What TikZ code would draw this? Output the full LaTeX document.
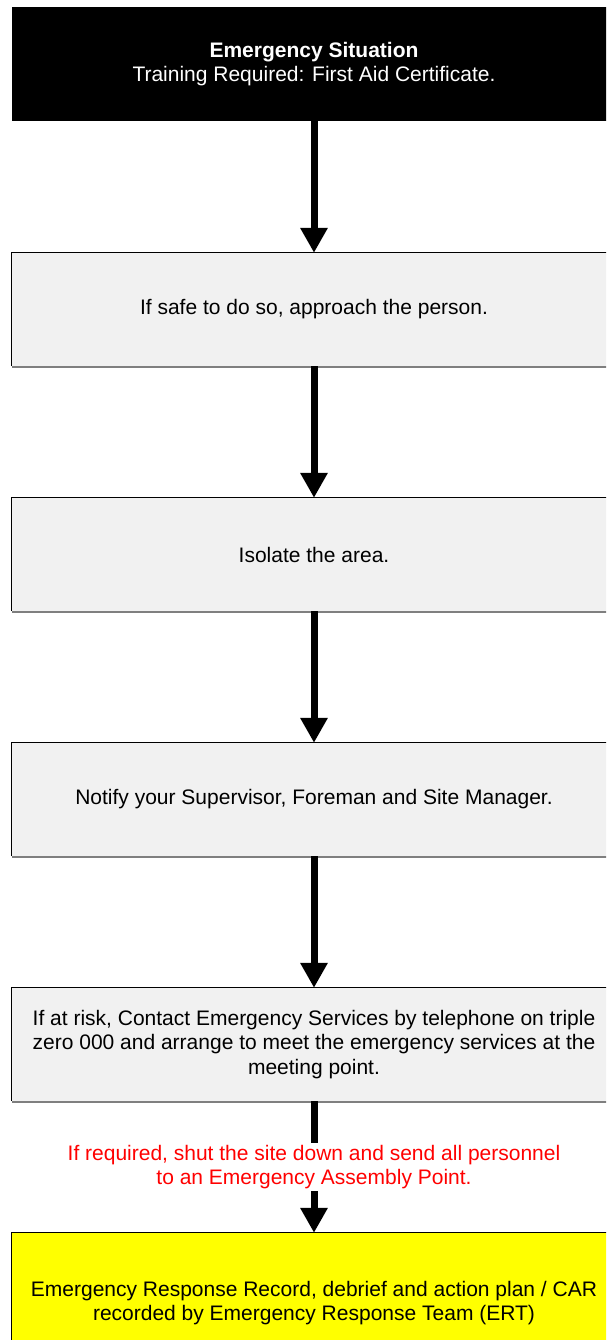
\documentclass[tikz,border=0pt]{standalone}
\usepackage{fontspec}
\setmainfont{Liberation Sans}
\usetikzlibrary{arrows.meta}
\definecolor{boxgray}{HTML}{F1F1F1}
\definecolor{edgegray}{HTML}{7F7F7F}
\definecolor{noteRed}{HTML}{FF0000}
\definecolor{recordYellow}{HTML}{FFFF00}
\begin{document}
\begin{tikzpicture}[x=1pt,y=-1pt,
  txt/.style={font=\fontsize{21}{24.5}\selectfont},
  stepbox/.style={txt, minimum width=604pt, minimum height=113pt, inner sep=0pt,
    align=center, fill=boxgray},
  headbox/.style={stepbox, fill=black, text=white, minimum height=114pt},
  recordbox/.style={stepbox, fill=recordYellow, minimum height=140pt},
  flow/.style={line width=7pt, -{Triangle[width=26pt,length=25pt]}},
  stem/.style={line width=7pt},
  note/.style={txt, text=noteRed, align=center, inner xsep=0pt, inner ysep=2pt}]
\useasboundingbox (0,0) rectangle (606,1340);
\clip (0,0) rectangle (606,1340);
\fill[white] (0,0) rectangle (606,1340);

% flow chart steps
\node[headbox] (b1) at (314,64) {\textbf{Emergency Situation}\\[-1pt]Training Required: First Aid Certificate.};
\node[stepbox] (b2) at (314,309.5) {If safe to do so, approach the person.};
\node[stepbox] (b3) at (314,554.5) {Isolate the area.};
\node[stepbox] (b4) at (314,799.5) {Notify your Supervisor, Foreman and Site Manager.};
\node[stepbox] (b5) at (314,1044.5) {If at risk, Contact Emergency Services by telephone on triple\\zero 000 and arrange to meet the emergency services at the\\meeting point.};
\node[recordbox] (b6) at (314,1303) {Emergency Response Record, debrief and action plan / CAR\\recorded by Emergency Response Team (ERT)};
\node[note] (n1) at (314,1167) {If required, shut the site down and send all personnel\\to an Emergency Assembly Point.};

% box outlines: black top and left edges, grey lower edge
\foreach \b in {b2,b3,b4,b5,b6} {
  \draw[black, line width=1pt] (\b.south west) |- (\b.north east);
  \draw[edgegray, line width=2pt] ([yshift=-1pt]\b.south west) -- ([yshift=-1pt]\b.south east);
}

% connectors
\draw[flow] (b1.south) -- (b2.north);
\draw[flow] (b2.south) -- (b3.north);
\draw[flow] (b3.south) -- (b4.north);
\draw[flow] (b4.south) -- (b5.north);
\draw[stem] (b5.south) -- (n1.north);
\draw[flow] (n1.south) -- (b6.north);
\end{tikzpicture}
\end{document}
